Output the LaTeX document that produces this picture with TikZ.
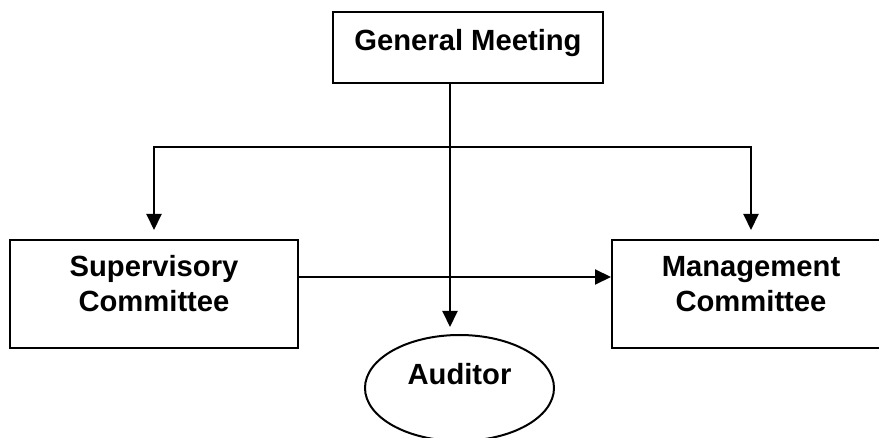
\documentclass[tikz,border=0pt]{standalone}
\usepackage{fontspec}
\setmainfont{Liberation Sans}
\usepackage{tikz}
\usetikzlibrary{arrows.meta,shapes.geometric}

\begin{document}
\begin{tikzpicture}[x=0.5pt, y=-0.5pt,
	box/.style={draw, line width=1pt, rectangle, font=\fontsize{14.6}{17.5}\selectfont\bfseries, align=center},
	arr/.style={line width=1pt, -{Triangle[length=8pt,width=7.5pt]}}]
	\useasboundingbox (0,0) rectangle (879,438);
	\node[box, minimum width=135pt, minimum height=35.5pt, text height=10pt, text depth=6.5pt] (gm) at (468,47.5) {General Meeting};
	\node[box, minimum width=144pt, minimum height=54pt, text height=28pt, text depth=10pt] (sup) at (154,294) {Supervisory\\Committee};
	\node[box, minimum width=139pt, minimum height=54pt, text height=28pt, text depth=10pt] (mgmt) at (751,294) {Management\\Committee};
	\node[box, ellipse, minimum width=94.5pt, minimum height=53pt, text height=10pt, text depth=13pt] (aud) at (459.5,388) {Auditor};
	\coordinate (gmout) at ([xshift=-9pt]gm.south);
	\coordinate (split) at (gmout |- 0,147);
	\draw[arr, shorten >=3.5pt] (gmout) -- (gmout |- aud.north);
	\draw[arr, shorten >=4.5pt] (split) -| (sup.north);
	\draw[arr, shorten >=4.5pt] (split) -| (mgmt.north);
	\draw[arr] ([yshift=8.5pt]sup.east) -- ([yshift=8.5pt]mgmt.west);
\end{tikzpicture}
\end{document}
